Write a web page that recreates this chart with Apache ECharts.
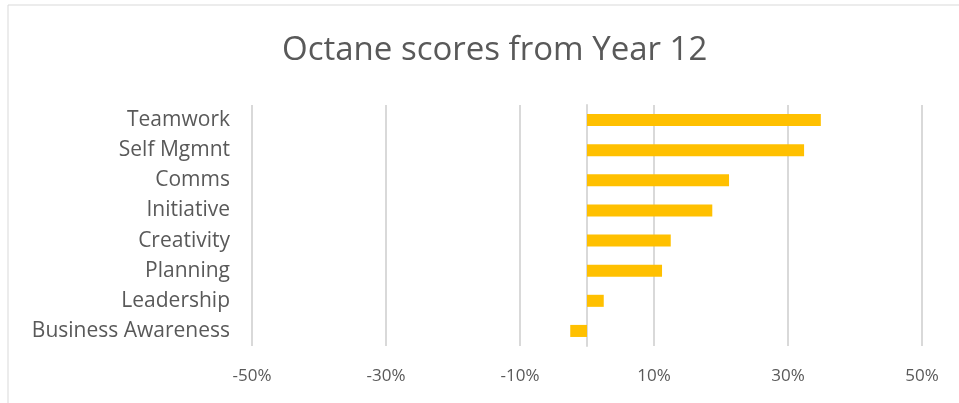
<!DOCTYPE html>
<html>
<head>
<meta charset="utf-8">
<script src="https://cdn.jsdelivr.net/npm/echarts@6/dist/echarts.min.js"></script>
<style>
  html, body { margin: 0; padding: 0; background: #fff; }
  #chart { width: 959px; height: 403px; }
</style>
</head>
<body>
<div id="chart"></div>
<script>
// skills, top to bottom
const categories = ['Teamwork', 'Self Mgmnt', 'Comms', 'Initiative', 'Creativity', 'Planning', 'Leadership', 'Business Awareness']
// percent scores
const scores = [34.9, 32.4, 21.2, 18.7, 12.5, 11.2, 2.5, -2.5]
const tickValues = [-50, -30, -10, 10, 30, 50]
const tickLabels = ['-50%', '-30%', '-10%', '10%', '30%', '50%']

const chart = echarts.init(document.getElementById('chart'))
const textColor = '#595959'
const gridColor = '#d9d9d9'

chart.setOption({
  animation: false,
  textStyle: { fontFamily: 'Open Sans' },
  title: {
    text: 'Octane scores from Year 12',
    left: 277,
    top: 29,
    textStyle: { color: textColor, fontSize: 33, fontWeight: 'normal', fontFamily: 'Open Sans' }
  },
  graphic: [{
    type: 'rect',
    shape: { x: 8, y: 5, width: 1000, height: 500 },
    style: { fill: 'none', stroke: gridColor, lineWidth: 1 },
    silent: true
  }],
  grid: {
    left: 252,
    right: 37,
    top: 105,
    height: 241
  },
  xAxis: {
    type: 'value',
    min: -50,
    max: 50,
    axisLine: { show: false },
    axisTick: { show: false, customValues: tickValues },
    splitLine: { show: true, lineStyle: { color: gridColor, width: 2 } },
    axisLabel: {
      customValues: tickValues,
      color: textColor,
      fontSize: 17,
      margin: 22,
      formatter: v => tickLabels[tickValues.indexOf(v)]
    }
  },
  yAxis: {
    type: 'category',
    inverse: true,
    data: categories,
    axisTick: { show: false },
    axisLine: { show: true, onZero: true, lineStyle: { color: gridColor, width: 2 } },
    axisLabel: { color: textColor, fontSize: 21, margin: 22, padding: [4, 0, 0, 0] }
  },
  series: [{
    type: 'bar',
    data: scores,
    barWidth: '40%',
    itemStyle: { color: '#FFC000' }
  }]
})
</script>
</body>
</html>
